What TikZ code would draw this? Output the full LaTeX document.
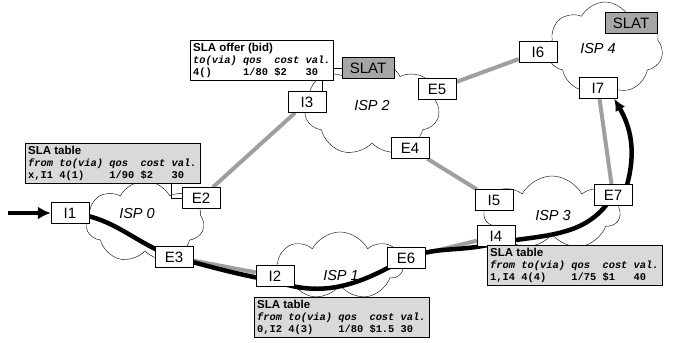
\documentclass[tikz,border=0pt]{standalone}
\usepackage{fontspec}
\setmainfont{Liberation Sans}
\setmonofont{Liberation Mono}
\usetikzlibrary{shapes.symbols,arrows.meta,backgrounds}

\tikzset{
  rbox/.style={draw,fill=white,minimum width=38pt,minimum height=21pt,inner sep=0pt,font=\fontsize{15}{17}\selectfont},
  slatbox/.style={rbox,fill=gray!70,minimum width=52pt},
  isp/.style={draw,cloud,cloud puffs=7,cloud puff arc=125,cloud ignores aspect,inner sep=0pt},
  isplabel/.style={font=\fontsize{14.5}{16}\selectfont\itshape},
  slatable/.style={draw,fill=gray!30,anchor=north west,align=left,inner sep=3pt,font=\fontsize{10.4}{12}\selectfont},
  link/.style={line width=4pt,gray!75},
  route/.style={line width=4.5pt,black},
}
\newcommand{\tabtitle}[1]{{\fontsize{11.5}{12}\selectfont\bfseries #1}}
\newcommand{\monorow}[1]{{\ttfamily\bfseries #1}}
\newcommand{\monohead}[1]{{\ttfamily\bfseries\itshape #1}}

\begin{document}
\begin{tikzpicture}[x=1pt,y=1pt]
  \useasboundingbox (0,0) rectangle (673,343);
  % clouds
  \node[isp,minimum width=118pt,minimum height=82pt] (isp0) at (145,121) {};
  \node[isp,minimum width=125pt,minimum height=68pt] (isp1) at (340,77) {};
  \node[isp,minimum width=135pt,minimum height=97pt] (isp2) at (372,235) {};
  \node[isp,minimum width=135pt,minimum height=74pt] (isp3) at (552,130) {};
  \node[isp,minimum width=116pt,minimum height=92pt] (isp4) at (605,295) {};
  \node[isplabel] at (137,129) {ISP 0};
  \node[isplabel] at (341,67) {ISP 1};
  \node[isplabel] at (372,237) {ISP 2};
  \node[isplabel] at (553,127) {ISP 3};
  \node[isplabel] at (598,294) {ISP 4};

  % routers
  \node[rbox] (I1) at (70,130) {I1};
  \node[rbox] (E2) at (201,145) {E2};
  \node[rbox] (E3) at (174,86) {E3};
  \node[rbox] (I2) at (275,67) {I2};
  \node[rbox] (E6) at (406,85) {E6};
  \node[rbox] (I3) at (307,241) {I3};
  \node[rbox] (E4) at (410,195) {E4};
  \node[rbox] (E5) at (437,254) {E5};
  \node[rbox] (I4) at (496,107) {I4};
  \node[rbox] (I5) at (494,143) {I5};
  \node[rbox] (E7) at (613,148) {E7};
  \node[rbox] (I6) at (538,291) {I6};
  \node[rbox] (I7) at (598,255) {I7};
  \node[slatbox] (slat2) at (368,275) {SLAT};
  \node[slatbox] (slat4) at (631,320) {SLAT};
  \coordinate (in) at (8,130);

  % SLA tables
  \node[slatable] (tab0) at (25,200) {\tabtitle{SLA table}\\
    \monohead{from~to(via)~qos~~cost~val.}\\
    \monorow{x,I1~4(1)~~~~1/90~\$2~~~30}};
  \node[slatable,fill=white] (offer) at (190,303) {\tabtitle{SLA offer (bid)}\\
    \monohead{to(via)~qos~~cost~val.}\\
    \monorow{4()~~~~~1/80~\$2~~~30}};
  \node[slatable] (tab1) at (254,46) {\tabtitle{SLA table}\\
    \monohead{from~to(via)~qos~~cost~val.}\\
    \monorow{0,I2~4(3)~~~~1/80~\$1.5~30}};
  \node[slatable] (tab3) at (487,98) {\tabtitle{SLA table}\\
    \monohead{from~to(via)~qos~~cost~val.}\\
    \monorow{1,I4~4(4)~~~~1/75~\$1~~~40}};

  % thin ties between tables and routers
  \draw ([xshift=-4pt]I3.north east) -- ([xshift=-4pt]I3.north east |- offer.south);
  \draw (slat2.west) -- (slat2.west -| offer.east);
  \draw (E2.west) -| ([xshift=-11pt]E2.west |- tab0.south);

  \begin{scope}[on background layer]
    \draw[link] (E2) -- (I3);
    \draw[link] (E4) -- (I5);
    \draw[link] (E5) -- (I6);
    \draw[link] (E3) -- (I2);
    \draw[link] (E6) -- (I4);
    \draw[link] (E7) -- (I7);
    \draw[route] (I1.center) to[out=-5,in=160] (E3.center)
      to[out=-15,in=170] ([yshift=-5pt]I2.center)
      to[out=-20,in=210] (E6.center)
      to[out=20,in=195] ([yshift=-7pt]I4.center)
      to[out=10,in=240] (E7.center);
  \end{scope}
  \draw[route,-{Latex[length=13pt,width=13pt]}] (in) -- (I1);
  \draw[route,-{Latex[length=12pt,width=11pt]}] ([xshift=-5pt]E7.north east)
    to[out=75,in=-60] ([xshift=-3pt]I7.south east);
\end{tikzpicture}
\end{document}
